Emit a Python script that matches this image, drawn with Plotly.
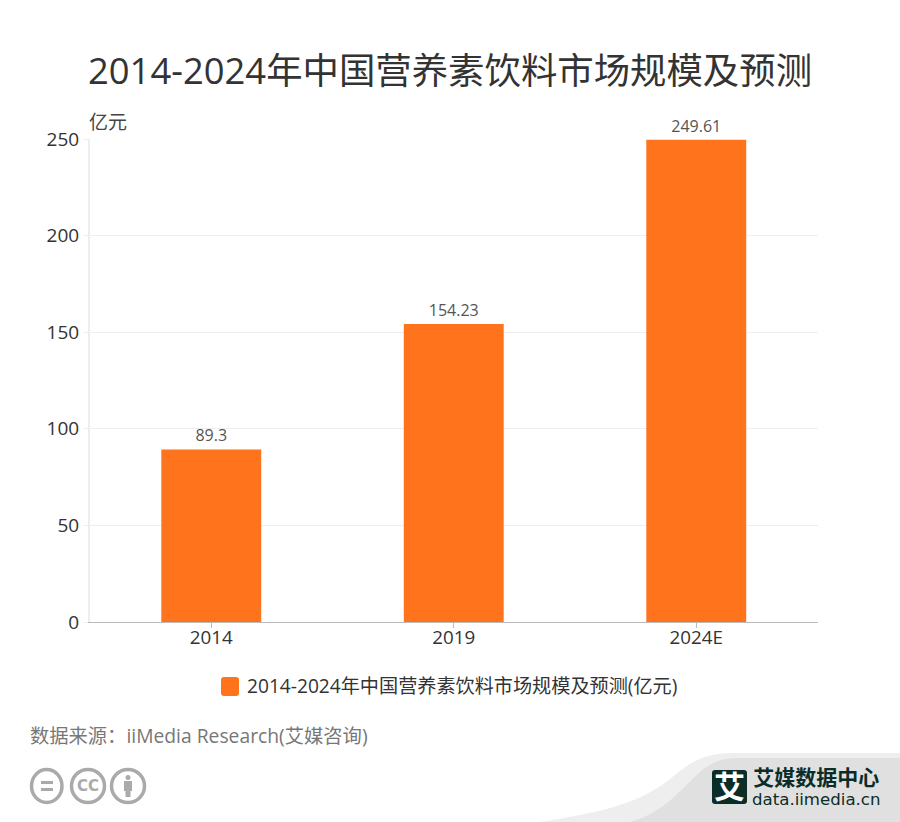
import plotly.graph_objects as go

W, H = 900, 822
categories = ["2014", "2019", "2024E"]
values = [89.3, 154.23, 249.61]
value_labels = ["89.3", "154.23", "249.61"]
y_ticks = [0, 50, 100, 150, 200, 250]
title = "2014-2024年中国营养素饮料市场规模及预测"
series_name = "2014-2024年中国营养素饮料市场规模及预测(亿元)"
unit = "亿元"
source = "数据来源：iiMedia Research(艾媒咨询)"
FONT = "Open Sans, Noto Sans CJK SC, sans-serif"
ORANGE = "#ff731c"
GREY = "#aaaaaa"
DARK = "#0b2d28"


def px(x):
    return x / W


def py(y):
    return 1 - y / H


def path(*parts):
    out = []
    for p in parts:
        if isinstance(p, str):
            out.append(p)
        else:
            out.append(f"{px(p[0]):.5f},{py(p[1]):.5f}")
    return " ".join(out)


def shape(kind, x0, y0, x1, y1, **kw):
    return dict(type=kind, xref="paper", yref="paper", x0=px(x0), x1=px(x1),
                y0=py(y0), y1=py(y1), **kw)


def text(x, y, s, size, color, anchor="left", weight=None, family=FONT):
    return dict(x=px(x), y=py(y), xref="paper", yref="paper", text=s, showarrow=False,
                xanchor=anchor, yanchor="middle", align=anchor,
                font=dict(size=size, color=color, family=family, weight=weight))


fig = go.Figure(go.Bar(
    x=categories, y=values, name=series_name, width=0.412,
    marker=dict(color=ORANGE, line=dict(width=0)),
    text=value_labels, textposition="outside", cliponaxis=False,
    textfont=dict(size=16, color="#555555", family=FONT),
    showlegend=True,
))

none = dict(width=0)
shapes = [
    dict(type="path", xref="paper", yref="paper", layer="below", fillcolor="#eeeeee", line=none,
         path=path("M", (540, 822), "C", (600, 812), (640, 805), (675, 775), "C", (695, 758), (710, 753), (735, 753),
                   "L", (900, 753), "L", (900, 822), "Z")),
    dict(type="path", xref="paper", yref="paper", layer="below", fillcolor="#e0e0e0", line=none,
         path=path("M", (630, 822), "C", (665, 812), (680, 790), (700, 772), "C", (712, 762), (722, 758), (740, 758),
                   "L", (900, 758), "L", (900, 822), "Z")),
    dict(type="path", xref="paper", yref="paper", fillcolor=DARK, line=none,
         path=path("M", (715, 770), "L", (744, 770), "Q", (747, 770), (747, 773), "L", (747, 801), "Q", (747, 804), (744, 804),
                   "L", (715, 804), "Q", (712, 804), (712, 801), "L", (712, 773), "Q", (712, 770), (715, 770), "Z")),
    shape("circle", 31.5, 769.5, 62, 802.5, line=dict(color=GREY, width=3.5)),
    shape("rect", 41, 781, 53, 784, fillcolor=GREY, line=none),
    shape("rect", 41, 788, 53, 791, fillcolor=GREY, line=none),
    shape("circle", 71.5, 769.5, 104.5, 802.5, line=dict(color=GREY, width=3.5)),
    shape("circle", 111.5, 769.5, 144.5, 802.5, line=dict(color=GREY, width=3.5)),
    shape("circle", 125.5, 775, 130.5, 780, fillcolor=GREY, line=none),
    shape("rect", 124, 781, 132, 791, fillcolor=GREY, line=none),
    shape("rect", 125.5, 791, 130.5, 797, fillcolor=GREY, line=none),
    dict(type="path", xref="paper", yref="paper", fillcolor=ORANGE, line=none,
         path=path("M", (224, 677), "L", (236, 677), "Q", (239, 677), (239, 680), "L", (239, 693), "Q", (239, 696), (236, 696),
                   "L", (224, 696), "Q", (221, 696), (221, 693), "L", (221, 680), "Q", (221, 677), (224, 677), "Z")),
]

logo_lines = ('<b><span style="font-size:21px">艾媒数据中心</span></b><br>'
              '<span style="font-size:16.6px;font-family:DejaVu Sans">data.iimedia.cn</span>')

annotations = [
    text(450, 70, title, 36.4, "#333333", "center"),
    text(87, 122, unit, 19, "#444444"),
    text(28, 735, source, 19.3, "#777777"),
    text(88, 786, "CC", 15, GREY, "center", weight=700, family="DejaVu Sans"),
    text(729.5, 786, "艾", 31, "#ffffff", "center", weight=700),
    text(816, 786, logo_lines, 15.5, DARK, "center"),
]

fig.update_layout(
    width=W, height=H, autosize=False,
    margin=dict(l=0, r=0, t=0, b=0),
    paper_bgcolor="#ffffff", plot_bgcolor="#ffffff",
    font=dict(family=FONT, color="#333333"),
    bargap=0.588, shapes=shapes, annotations=annotations,
    xaxis=dict(domain=[px(90), px(817.5)], type="category", categoryorder="array", categoryarray=categories,
               ticks="outside", ticklen=5, tickcolor="#bbbbbb", tickwidth=1, ticklabelstandoff=-7,
               showline=True, linecolor="#bbbbbb", linewidth=1, showgrid=False,
               tickfont=dict(size=18.8, color="#333333"), automargin=False),
    yaxis=dict(domain=[py(622), py(139)], range=[0, 250], tickvals=y_ticks,
               ticks="outside", ticklen=5, tickcolor="#eeeeee", tickwidth=1,
               showline=True, linecolor="#eeeeee", linewidth=2,
               showgrid=True, gridcolor="#eeeeee", gridwidth=1, zeroline=False,
               tickfont=dict(size=19, color="#333333"), automargin=False),
    legend=dict(orientation="h", x=px(207), xanchor="left", y=py(686), yanchor="middle",
                font=dict(size=19.15, color="#333333", family=FONT), bgcolor="rgba(0,0,0,0)",
                itemclick=False, itemdoubleclick=False),
)
fig.write_html("out.html", config=dict(displayModeBar=False),
               post_script="document.body.style.margin='0';document.documentElement.style.overflow='hidden';window.dispatchEvent(new Event('resize'));")
